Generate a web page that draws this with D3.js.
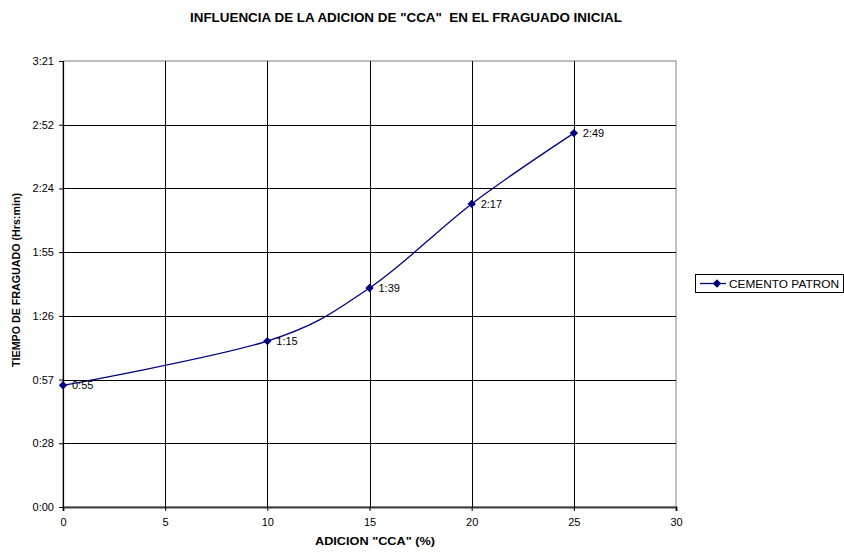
<!DOCTYPE html>
<html>
<head>
<meta charset="utf-8">
<script src="https://cdn.jsdelivr.net/npm/d3@7"></script>
<style>
  body { margin: 0; background: #fff; }
  text { font-family: "Liberation Sans", Arial, sans-serif; }
</style>
</head>
<body>
<div id="chart"></div>
<script>
// chart data
var adicion = [0, 10, 15, 20, 25];          // % CCA
var tiempoMin = [55, 75, 99, 137, 169];      // minutes
var tiempoLabels = ['0:55', '1:15', '1:39', '2:17', '2:49'];
var xTicks = [0, 5, 10, 15, 20, 25, 30];
var yTicks = [0, 28.8, 57.6, 86.4, 115.2, 144, 172.8, 201.6]; // 0.02 day steps
var serieName = 'CEMENTO PATRON';

var width = 844;
var height = 552;
var plot = { left: 63, top: 61, right: 676, bottom: 507 };

var svg = d3.select('#chart')
  .append('svg')
  .attr('width', width)
  .attr('height', height);

var x = d3.scaleLinear().domain([0, 30]).range([plot.left, plot.right]);
var y = d3.scaleLinear().domain([0, 201.6]).range([plot.bottom, plot.top]);

function fmtTime (m) {
  var h = Math.floor(m / 60);
  var mm = Math.floor(m - h * 60);
  return h + ':' + (mm < 10 ? '0' : '') + mm;
}

// plot border (gray)
svg.append('rect')
  .attr('x', plot.left).attr('y', plot.top)
  .attr('width', plot.right - plot.left).attr('height', plot.bottom - plot.top)
  .attr('fill', 'none').attr('stroke', '#808080').attr('stroke-width', 1);

// gridlines
svg.append('g').selectAll('line')
  .data(yTicks.slice(1, -1))
  .enter().append('line')
  .attr('x1', plot.left).attr('x2', plot.right)
  .attr('y1', function (d) { return Math.round(y(d)) + 0.5; })
  .attr('y2', function (d) { return Math.round(y(d)) + 0.5; })
  .attr('stroke', '#000').attr('stroke-width', 1);

svg.append('g').selectAll('line')
  .data(xTicks.slice(1, -1))
  .enter().append('line')
  .attr('y1', plot.top).attr('y2', plot.bottom)
  .attr('x1', function (d) { return Math.round(x(d)) + 0.5; })
  .attr('x2', function (d) { return Math.round(x(d)) + 0.5; })
  .attr('stroke', '#000').attr('stroke-width', 1);

// axes
var xAxis = svg.append('g')
  .attr('transform', 'translate(0,' + plot.bottom + ')')
  .call(d3.axisBottom(x).tickValues(xTicks).tickSize(4).tickPadding(7));
var yAxis = svg.append('g')
  .attr('transform', 'translate(' + plot.left + ',0)')
  .call(d3.axisLeft(y).tickValues(yTicks).tickFormat(fmtTime).tickSize(4).tickPadding(5));

xAxis.select('.domain').attr('stroke', '#404040').attr('stroke-width', 2);
yAxis.select('.domain').attr('stroke', '#000').attr('stroke-width', 1.2);
[xAxis, yAxis].forEach(function (a) {
  a.selectAll('text').attr('font-size', 11).attr('fill', '#000')
    .style('font-family', '"Liberation Sans", Arial, sans-serif');
  a.selectAll('.tick line').attr('stroke', '#000');
});

// smoothed series line
var pts = adicion.map(function (d, i) { return [x(d), y(tiempoMin[i])]; });
svg.append('path')
  .attr('d', d3.line().curve(d3.curveCardinal.tension(0))(pts))
  .attr('fill', 'none')
  .attr('stroke', '#000080')
  .attr('stroke-width', 1.3);

var diamond = d3.symbol().type(d3.symbolDiamond2).size(45);
svg.append('g').selectAll('path')
  .data(pts)
  .enter().append('path')
  .attr('d', diamond)
  .attr('transform', function (d) { return 'translate(' + d[0] + ',' + d[1] + ')'; })
  .attr('fill', '#000080');

svg.append('g').selectAll('text')
  .data(pts)
  .enter().append('text')
  .attr('x', function (d) { return d[0] + 9; })
  .attr('y', function (d) { return d[1] + 4; })
  .attr('font-size', 11)
  .text(function (d, i) { return tiempoLabels[i]; });

// titles
svg.append('text')
  .attr('x', 190).attr('y', 22)
  .attr('font-size', 12).attr('font-weight', 'bold')
  .attr('textLength', 432).attr('lengthAdjust', 'spacingAndGlyphs')
  .style('white-space', 'pre')
  .text('INFLUENCIA DE LA ADICION DE "CCA"  EN EL FRAGUADO INICIAL');

svg.append('text')
  .attr('x', 315).attr('y', 545)
  .attr('font-size', 11).attr('font-weight', 'bold')
  .attr('textLength', 120).attr('lengthAdjust', 'spacingAndGlyphs')
  .text('ADICION "CCA" (%)');

svg.append('text')
  .attr('transform', 'translate(20,' + 280 + ') rotate(-90)')
  .attr('text-anchor', 'middle')
  .attr('font-size', 10.7).attr('font-weight', 'bold')
  .text('TIEMPO DE FRAGUADO (Hrs:min)');

// legend
var lg = svg.append('g').attr('transform', 'translate(695,274)');
lg.append('rect')
  .attr('x', 0.5).attr('y', 0.5).attr('width', 148).attr('height', 18)
  .attr('fill', '#fff').attr('stroke', '#000');
lg.append('line')
  .attr('x1', 5).attr('x2', 31).attr('y1', 9.5).attr('y2', 9.5)
  .attr('stroke', '#000080').attr('stroke-width', 1.3);
lg.append('path')
  .attr('d', diamond)
  .attr('transform', 'translate(22,9.5)')
  .attr('fill', '#000080');
lg.append('text')
  .attr('x', 34).attr('y', 13.5)
  .attr('font-size', 11)
  .attr('textLength', 110).attr('lengthAdjust', 'spacingAndGlyphs')
  .text(serieName);
</script>
</body>
</html>
